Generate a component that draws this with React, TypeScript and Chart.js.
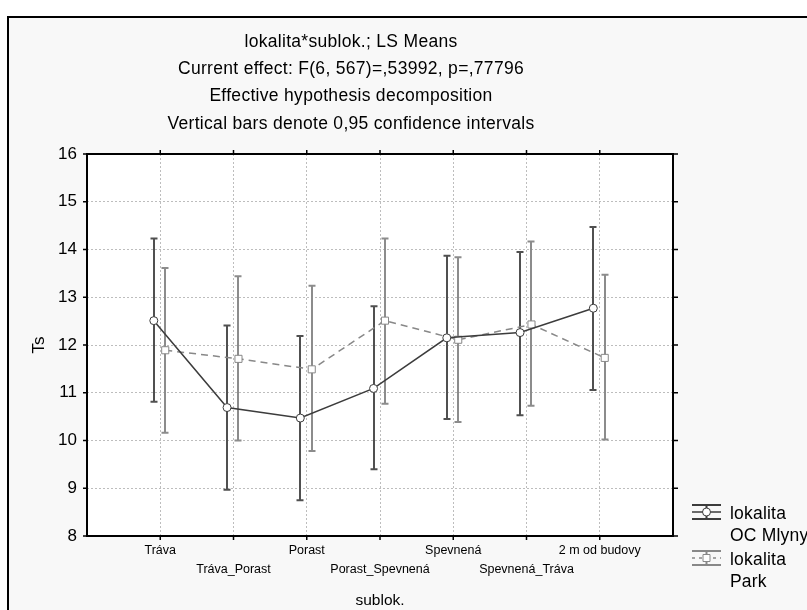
import { useEffect, useRef } from 'react';
import { Chart, registerables } from 'chart.js';

Chart.register(...registerables);

const categories = ['Tráva', 'Tráva_Porast', 'Porast', 'Porast_Spevnená', 'Spevnená', 'Spevnená_Tráva', '2 m od budovy'];
const ocMean = [12.51, 10.69, 10.47, 11.09, 12.15, 12.26, 12.77];
const ocLow = [10.81, 8.97, 8.75, 9.4, 10.45, 10.53, 11.06];
const ocHigh = [14.23, 12.41, 12.19, 12.81, 13.87, 13.95, 14.47];
const parkMean = [11.89, 11.71, 11.49, 12.51, 12.11, 12.43, 11.73];
const parkLow = [10.16, 10.0, 9.78, 10.77, 10.39, 10.73, 10.02];
const parkHigh = [13.61, 13.44, 13.24, 14.23, 13.84, 14.17, 13.47];
const yTicks = [8, 9, 10, 11, 12, 13, 14, 15, 16];
const titleLines = [
  'lokalita*sublok.; LS Means',
  'Current effect: F(6, 567)=,53992, p=,77796',
  'Effective hypothesis decomposition',
  'Vertical bars denote 0,95 confidence intervals',
];
const yTitle = 'Ts';
const xTitle = 'sublok.';
const legendLabels = [['lokalita', 'OC Mlyny'], ['lokalita', 'Park']];

const OC_COLOR = '#3c3c3c';
const OC_BAR = '#505050';
const PARK_COLOR = '#888888';
const PARK_BAR = '#8c8c8c';
const FONT = "'Liberation Sans', Arial, sans-serif";

const chromePlugin = {
  id: 'chrome',
  beforeDraw(chart: any) {
    const { ctx, chartArea: a } = chart;
    ctx.save();
    ctx.fillStyle = '#ffffff';
    ctx.fillRect(0, 0, chart.width, chart.height);
    ctx.fillStyle = '#f8f8f8';
    ctx.fillRect(7, 16, chart.width, chart.height);
    ctx.strokeStyle = '#000000';
    ctx.lineWidth = 2;
    ctx.beginPath();
    ctx.moveTo(8, chart.height + 2);
    ctx.lineTo(8, 17);
    ctx.lineTo(chart.width + 2, 17);
    ctx.stroke();
    ctx.fillStyle = '#ffffff';
    ctx.fillRect(a.left, a.top, a.right - a.left, a.bottom - a.top);
    ctx.restore();
  },
  beforeDatasetsDraw(chart: any) {
    const { ctx } = chart;
    const xs = chart.scales.x;
    const ys = chart.scales.y;
    ctx.save();
    chart.data.datasets.forEach((ds: any) => {
      ctx.strokeStyle = ds.barColor;
      ctx.lineWidth = 2;
      ds.data.forEach((p: any, i: number) => {
        const x = Math.round(xs.getPixelForValue(p.x));
        const yl = ys.getPixelForValue(ds.low[i]);
        const yh = ys.getPixelForValue(ds.high[i]);
        ctx.beginPath();
        ctx.moveTo(x, yl);
        ctx.lineTo(x, yh);
        ctx.moveTo(x - 3.5, yl);
        ctx.lineTo(x + 3.5, yl);
        ctx.moveTo(x - 3.5, yh);
        ctx.lineTo(x + 3.5, yh);
        ctx.stroke();
      });
    });
    ctx.restore();
  },
  afterDraw(chart: any) {
    const { ctx, chartArea: a } = chart;
    const xs = chart.scales.x;
    const ys = chart.scales.y;
    ctx.save();
    // plot border
    ctx.strokeStyle = '#000000';
    ctx.lineWidth = 2;
    ctx.strokeRect(a.left, a.top, a.right - a.left, a.bottom - a.top);
    // outward ticks
    ctx.lineWidth = 1.5;
    ctx.beginPath();
    yTicks.forEach((v) => {
      const y = ys.getPixelForValue(v);
      ctx.moveTo(a.left - 4, y);
      ctx.lineTo(a.left, y);
      ctx.moveTo(a.right, y);
      ctx.lineTo(a.right + 5, y);
    });
    categories.forEach((_, i) => {
      const x = xs.getPixelForValue(i + 1);
      ctx.moveTo(x, a.bottom);
      ctx.lineTo(x, a.bottom + 4);
      ctx.moveTo(x, a.top);
      ctx.lineTo(x, a.top - 4);
    });
    ctx.stroke();

    // titles
    ctx.fillStyle = '#000000';
    ctx.textAlign = 'center';
    ctx.textBaseline = 'middle';
    ctx.font = `17.5px ${FONT}`;
    (ctx as any).letterSpacing = '0.3px';
    titleLines.forEach((t, i) => {
      ctx.fillText(t, 351, 42 + i * 27.3);
    });
    (ctx as any).letterSpacing = '0px';

    // x tick labels (staggered)
    ctx.font = `12.5px ${FONT}`;
    categories.forEach((c, i) => {
      const x = xs.getPixelForValue(i + 1);
      ctx.fillText(c, x, a.bottom + (i % 2 === 0 ? 15 : 34));
    });

    // axis titles
    ctx.font = `15.5px ${FONT}`;
    ctx.fillText(xTitle, (a.left + a.right) / 2, 601);
    ctx.save();
    ctx.translate(39, (a.top + a.bottom) / 2);
    ctx.rotate(-Math.PI / 2);
    ctx.font = `17px ${FONT}`;
    ctx.fillText(yTitle, 0, 0);
    ctx.restore();

    // legend
    const lx0 = 692;
    const lx1 = 721;
    const lxm = (lx0 + lx1) / 2;
    const entries = [
      { y: 512, color: OC_COLOR, dash: [] as number[], marker: 'circle' },
      { y: 558, color: PARK_COLOR, dash: [3, 4], marker: 'rect' },
    ];
    entries.forEach((e, k) => {
      ctx.strokeStyle = e.color;
      ctx.lineWidth = 2;
      ctx.setLineDash([]);
      ctx.beginPath();
      ctx.moveTo(lx0, e.y - 7);
      ctx.lineTo(lx1, e.y - 7);
      ctx.moveTo(lx0, e.y + 7);
      ctx.lineTo(lx1, e.y + 7);
      ctx.moveTo(lxm, e.y - 7);
      ctx.lineTo(lxm, e.y + 7);
      ctx.stroke();
      ctx.lineWidth = 1.5;
      ctx.setLineDash(e.dash);
      ctx.beginPath();
      ctx.moveTo(lx0, e.y);
      ctx.lineTo(lx1, e.y);
      ctx.stroke();
      ctx.setLineDash([]);
      ctx.fillStyle = '#ffffff';
      ctx.lineWidth = 1;
      ctx.beginPath();
      if (e.marker === 'circle') {
        ctx.arc(lxm, e.y, 4, 0, Math.PI * 2);
      } else {
        ctx.rect(lxm - 3.5, e.y - 3.5, 7, 7);
      }
      ctx.fill();
      ctx.stroke();
      ctx.fillStyle = '#000000';
      ctx.textAlign = 'left';
      ctx.font = `17.5px ${FONT}`;
      (ctx as any).letterSpacing = '0.2px';
      ctx.fillText(legendLabels[k][0], 730, e.y + 2);
      ctx.fillText(legendLabels[k][1], 730, e.y + 24);
      (ctx as any).letterSpacing = '0px';
    });
    ctx.restore();
  },
};

export default function App() {
  const ref = useRef<HTMLCanvasElement | null>(null);
  useEffect(() => {
    if (!ref.current) return;
    const OC_OFF = -0.088;
    const PARK_OFF = 0.068;
    const chart = new Chart(ref.current, {
      type: 'line',
      data: {
        datasets: [
          {
            label: 'lokalita OC Mlyny',
            data: ocMean.map((v, i) => ({ x: i + 1 + OC_OFF, y: v })),
            low: ocLow,
            high: ocHigh,
            barColor: OC_BAR,
            borderColor: OC_COLOR,
            borderWidth: 1.5,
            pointStyle: 'circle',
            pointRadius: 4,
            pointBackgroundColor: '#ffffff',
            pointBorderColor: OC_COLOR,
            pointBorderWidth: 1,
            fill: false,
            tension: 0,
          } as any,
          {
            label: 'lokalita Park',
            data: parkMean.map((v, i) => ({ x: i + 1 + PARK_OFF, y: v })),
            low: parkLow,
            high: parkHigh,
            barColor: PARK_BAR,
            borderColor: PARK_COLOR,
            borderWidth: 1.5,
            borderDash: [7, 5],
            pointStyle: 'rect',
            pointRadius: 5,
            pointBackgroundColor: '#ffffff',
            pointBorderColor: PARK_COLOR,
            pointBorderWidth: 1,
            fill: false,
            tension: 0,
          } as any,
        ],
      },
      options: {
        animation: false,
        responsive: false,
        maintainAspectRatio: false,
        layout: { padding: { top: 154, right: 134, left: 0, bottom: 0 } },
        plugins: { legend: { display: false }, tooltip: { enabled: false }, title: { display: false } },
        scales: {
          x: {
            type: 'linear',
            min: 0,
            max: 8,
            afterBuildTicks: (s: any) => {
              s.ticks = categories.map((_, i) => ({ value: i + 1 }));
            },
            afterFit: (s: any) => {
              s.height = 74;
            },
            ticks: { display: false },
            border: { display: false, dash: [2, 2] },
            grid: { color: '#bdbdbd', drawTicks: false, lineWidth: 1 },
          },
          y: {
            type: 'linear',
            min: 8,
            max: 16,
            afterBuildTicks: (s: any) => {
              s.ticks = yTicks.map((v) => ({ value: v }));
            },
            afterFit: (s: any) => {
              s.width = 87;
            },
            ticks: {
              color: '#000000',
              font: { family: FONT, size: 17 },
              padding: 10,
            },
            border: { display: false, dash: [2, 2] },
            grid: { color: '#bdbdbd', drawTicks: false, lineWidth: 1 },
          },
        },
      },
      plugins: [chromePlugin],
    });
    return () => chart.destroy();
  }, []);
  return (
    <div style={{ position: 'fixed', left: 0, top: 0, width: 807, height: 610 }}>
      <canvas ref={ref} width={807} height={610} style={{ width: 807, height: 610, display: 'block' }} />
    </div>
  );
}
